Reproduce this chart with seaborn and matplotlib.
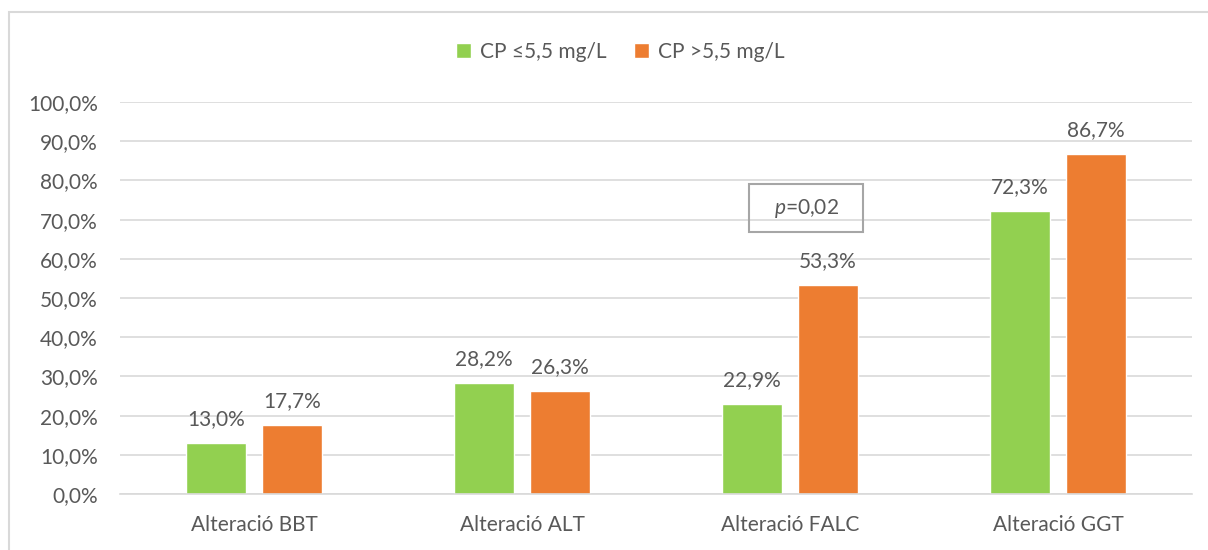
import pandas as pd
import matplotlib
matplotlib.use('Agg')
import matplotlib.pyplot as plt
from matplotlib.patches import Rectangle
import seaborn as sns

categories = ['Alteració BBT', 'Alteració ALT', 'Alteració FALC', 'Alteració GGT']
groups = ['CP ≤5,5 mg/L', 'CP >5,5 mg/L']
low_cp = [13.0, 28.2, 22.9, 72.3]
high_cp = [17.7, 26.3, 53.3, 86.7]
yticks = [0, 10, 20, 30, 40, 50, 60, 70, 80, 90, 100]
p_text = '$\\mathit{p}$=0,02'

df = pd.DataFrame({
    'cat': categories * 2,
    'grp': [groups[0]] * 4 + [groups[1]] * 4,
    'val': low_cp + high_cp,
})

sns.set_style('white')
plt.rcParams['font.family'] = ['Lato', 'DejaVu Sans']
plt.rcParams['mathtext.fontset'] = 'custom'
plt.rcParams['mathtext.rm'] = 'Lato'
plt.rcParams['mathtext.it'] = 'Lato:italic'
txt = '#595959'
grid = '#D9D9D9'
fs = 15

fig = plt.figure(figsize=(12.08, 5.5), dpi=100)
ax = fig.add_axes([120 / 1208, 56 / 550, 1072 / 1208, 392 / 550])

sns.barplot(data=df, x='cat', y='val', hue='grp', palette=['#92D050', '#ED7D31'],
            width=0.567, gap=0.21, ax=ax, saturation=1, legend=True)

ax.set_ylim(0, 100)
ax.set_xlim(-0.5, 3.5)
ax.set_yticks(yticks)
ax.set_yticklabels([f'{t:.1f}%'.replace('.', ',') for t in yticks])
ax.set_xlabel('')
ax.set_ylabel('')
ax.grid(axis='y', color=grid, lw=1.2)
ax.set_axisbelow(True)
for s in ['top', 'right', 'left']:
    ax.spines[s].set_visible(False)
ax.spines['bottom'].set_color(grid)
ax.spines['bottom'].set_linewidth(1.2)
ax.tick_params(axis='y', length=0, pad=16, labelsize=fs, labelcolor=txt)
ax.tick_params(axis='x', length=0, pad=15, labelsize=fs, labelcolor=txt)

for cont in ax.containers:
    ax.bar_label(cont, labels=[f'{b.get_height():.1f}%'.replace('.', ',') for b in cont],
                 padding=10, fontsize=fs, color=txt)

handles, labels = ax.get_legend_handles_labels()
ax.legend(handles, labels, loc='center', bbox_to_anchor=(620 / 1208, 1 - 52 / 550),
          bbox_transform=fig.transFigure, ncol=2, frameon=False, fontsize=fs,
          labelcolor=txt, handlelength=0.75, handleheight=0.75, handletextpad=0.4,
          columnspacing=1.3)

# p-value box
ax.add_patch(Rectangle((1.847, 66.8), 0.425, 12.3, fill=False, edgecolor='#A6A6A6',
                       lw=1.5, zorder=5))
ax.text(2.06, 72.9, p_text, ha='center', va='center', fontsize=fs, color=txt, zorder=6)

# outer chart border
fig.patches.append(Rectangle((9 / 1208, -0.1), 1.2, 1.1 - 12 / 550, fill=False,
                             edgecolor=grid, lw=1.5, transform=fig.transFigure))

fig.savefig('out.png', dpi=100)
